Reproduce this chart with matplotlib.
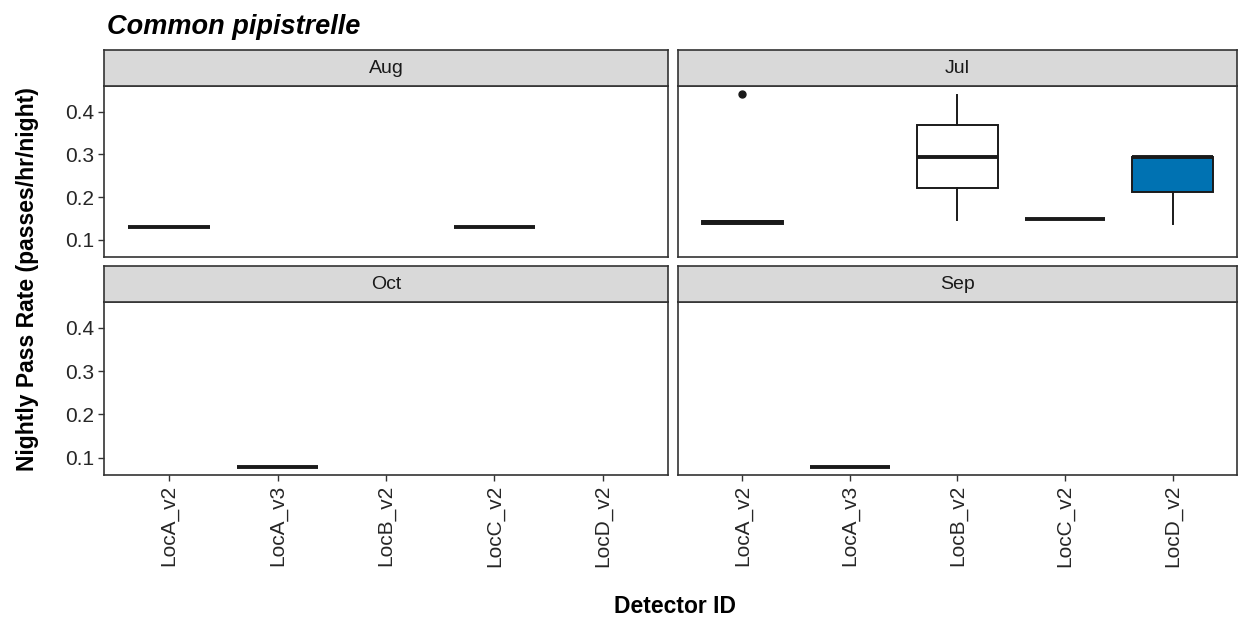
import matplotlib
matplotlib.use('Agg')
import matplotlib.pyplot as plt

plt.rcParams['font.family'] = ['Liberation Sans', 'DejaVu Sans']

# Dados
detectores = ['LocA_v2', 'LocA_v3', 'LocB_v2', 'LocC_v2', 'LocD_v2']
meses = ['Aug', 'Jul', 'Oct', 'Sep']

# estatísticas de cada caixa: detector, q1, mediana, q3, bigode inf, bigode sup, outliers
caixas_aug = [
    ('LocA_v2', 0.129, 0.129, 0.129, 0.129, 0.129, []),
    ('LocC_v2', 0.129, 0.129, 0.129, 0.129, 0.129, []),
]
caixas_jul = [
    ('LocA_v2', 0.138, 0.141, 0.145, 0.138, 0.145, [0.441]),
    ('LocB_v2', 0.221, 0.295, 0.369, 0.147, 0.439, []),
    ('LocC_v2', 0.148, 0.148, 0.148, 0.148, 0.148, []),
    ('LocD_v2', 0.213, 0.293, 0.293, 0.137, 0.293, []),
]
caixas_oct = [
    ('LocA_v3', 0.079, 0.079, 0.079, 0.079, 0.079, []),
]
caixas_sep = [
    ('LocA_v3', 0.079, 0.079, 0.079, 0.079, 0.079, []),
]
dados = {'Aug': caixas_aug, 'Jul': caixas_jul, 'Oct': caixas_oct, 'Sep': caixas_sep}

cores = {'LocA_v2': '#8B1A2B', 'LocA_v3': 'white', 'LocB_v2': 'white',
         'LocC_v2': 'white', 'LocD_v2': '#0072B2'}

fig = plt.figure(figsize=(12.41, 6.2), dpi=100)

# posições dos painéis (left, bottom, width, height)
pos = {
    'Aug': [0.0838, 0.5855, 0.4545, 0.2758],
    'Jul': [0.5463, 0.5855, 0.4505, 0.2758],
    'Oct': [0.0838, 0.2339, 0.4545, 0.2790],
    'Sep': [0.5463, 0.2339, 0.4505, 0.2790],
}
altura_faixa = 0.058

for mes in meses:
    l, b, w, h = pos[mes]
    ax = fig.add_axes([l, b, w, h])
    stats = []
    posicoes = []
    for det, q1, med, q3, lo, hi, out in dados[mes]:
        stats.append({'q1': q1, 'med': med, 'q3': q3, 'whislo': lo,
                      'whishi': hi, 'fliers': out})
        posicoes.append(detectores.index(det) + 1)
    bp = ax.bxp(stats, positions=posicoes, widths=0.75, patch_artist=True,
                showcaps=False,
                boxprops=dict(edgecolor='#1a1a1a', linewidth=1.4),
                medianprops=dict(color='#1a1a1a', linewidth=2.8),
                whiskerprops=dict(color='#1a1a1a', linewidth=1.4),
                flierprops=dict(marker='o', markerfacecolor='#1a1a1a',
                                markeredgecolor='#1a1a1a', markersize=5))
    for patch, (det, *_r) in zip(bp['boxes'], dados[mes]):
        patch.set_facecolor(cores[det])

    ax.set_xlim(0.4, 5.6)
    ax.set_ylim(0.060, 0.460)
    ax.set_yticks([0.1, 0.2, 0.3, 0.4])
    ax.set_xticks(range(1, 6))
    for s in ax.spines.values():
        s.set_color('#333333')
        s.set_linewidth(1.2)
    ax.tick_params(colors='#333333', labelcolor='#262626', labelsize=15,
                   length=4, width=1, pad=3)
    if mes in ('Aug', 'Oct'):
        ax.set_yticklabels(['0.1', '0.2', '0.3', '0.4'])
    else:
        ax.tick_params(axis='y', left=False, labelleft=False)
    if mes in ('Oct', 'Sep'):
        ax.set_xticklabels(detectores, rotation=90)
    else:
        ax.tick_params(axis='x', bottom=False, labelbottom=False)

    # faixa do título do painel
    fx = fig.add_axes([l, b + h, w, altura_faixa])
    fx.set_facecolor('#D9D9D9')
    fx.set_xticks([])
    fx.set_yticks([])
    for s in fx.spines.values():
        s.set_color('#333333')
        s.set_linewidth(1.2)
    fx.text(0.5, 0.5, mes, ha='center', va='center', fontsize=14,
            color='#1a1a1a', transform=fx.transAxes)

fig.text(0.086, 0.956, 'Common pipistrelle', fontsize=19.5, fontweight='bold',
         fontstyle='italic', ha='left', va='center')
fig.text(0.544, 0.022, 'Detector ID', fontsize=16.5, fontweight='bold',
         ha='center', va='center')
fig.text(0.022, 0.55, 'Nightly Pass Rate (passes/hr/night)', fontsize=16.5,
         fontweight='bold', rotation=90, ha='center', va='center')

plt.savefig('out.png', dpi=100)
